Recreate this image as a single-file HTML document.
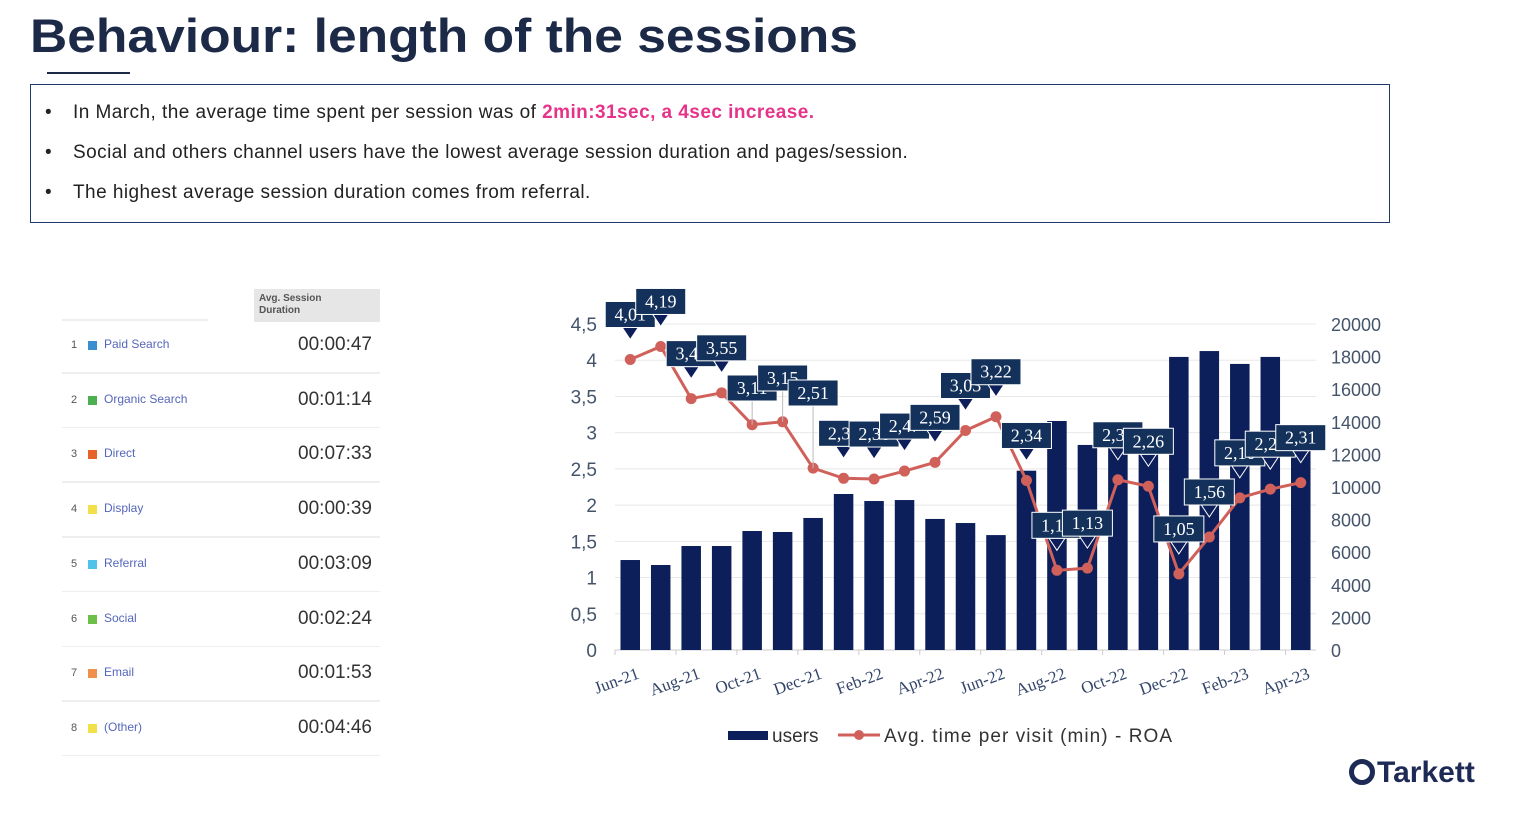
<!DOCTYPE html>
<html><head><meta charset="utf-8">
<style>
body{margin:0;width:1534px;height:826px;background:#fff;position:relative;overflow:hidden;font-family:"Liberation Sans",sans-serif}
.t{position:absolute}
#title{left:30px;top:8px;font-size:47px;font-weight:bold;color:#1c2a48;transform:scaleX(1.097);transform-origin:0 0;white-space:nowrap}
#uline{left:47px;top:72px;width:83px;height:2px;background:#1c2a48}
#box{left:30px;top:84px;width:1358px;height:137px;border:1.5px solid #1f3a6a}
.b{position:absolute;left:14px;font-size:19px;color:#222;letter-spacing:0.45px}
.b span.d{position:absolute;left:0}
.b span.x{position:absolute;left:28px;white-space:nowrap}
.pk{color:#e6338a;font-weight:bold}
.row{position:absolute;left:62px;width:318px;height:54px}
.sep{position:absolute;left:62px;height:1.5px;background:#eee}
.n{position:absolute;left:9px;font-size:11px;color:#555}
.sq{position:absolute;left:26px;width:9px;height:9px}
.lb{position:absolute;left:42px;font-size:12px;color:#5566bb}
.v{position:absolute;right:8px;font-size:19px;color:#333}
</style></head><body>
<div class="t" id="title">Behaviour: length of the sessions</div>
<div class="t" id="uline"></div>
<div class="t" id="box">
 <div class="b" style="top:17px"><span class="d">•</span><span class="x">In March, the average time spent per session was of <span class="pk">2min:31sec, a 4sec increase.</span></span></div>
 <div class="b" style="top:57px"><span class="d">•</span><span class="x">Social and others channel users have the lowest average session duration and pages/session.</span></div>
 <div class="b" style="top:97px"><span class="d">•</span><span class="x">The highest average session duration comes from referral.</span></div>
</div>

<div class="t" style="left:254px;top:289px;width:126px;height:33px;background:#e6e6e6"><div style="position:absolute;left:5px;top:4px;font-size:10px;font-weight:bold;color:#555;line-height:12px">Avg. Session<br>Duration</div></div>
<div class="sep" style="top:319px;width:146px"></div>
<div id="table"></div>

<svg id="chart" width="1534" height="826" style="position:absolute;left:0;top:0"></svg>

<div class="t" style="left:1349px;top:756px;font-size:30px;font-weight:bold;color:#1c2a55;white-space:nowrap"><span style="display:inline-block;width:26px;height:26px;border:5px solid #1c2a55;border-radius:50%;box-sizing:border-box;vertical-align:-3px;margin-right:2px"></span>Tarkett</div>

<script>
const channels=["Paid Search","Organic Search","Direct","Display","Referral","Social","Email","(Other)"];
const durations=["00:00:47","00:01:14","00:07:33","00:00:39","00:03:09","00:02:24","00:01:53","00:04:46"];
const chColors=["#3a8fd0","#4caf50","#e8632a","#f2e04a","#4fc3e8","#6cc04a","#f0904a","#f2e04a"];

const months=["Jun-21","Jul-21","Aug-21","Sep-21","Oct-21","Nov-21","Dec-21","Jan-22","Feb-22","Mar-22","Apr-22","May-22","Jun-22","Jul-22","Aug-22","Sep-22","Oct-22","Nov-22","Dec-22","Jan-23","Feb-23","Mar-23","Apr-23"];
const users=[5520,5215,6380,6380,7300,7240,8100,9570,9140,9200,8040,7790,7050,11000,14050,12580,13620,13500,17980,18340,17550,17980,12270];
const avgTime=[4.01,4.19,3.47,3.55,3.11,3.15,2.51,2.37,2.36,2.47,2.59,3.03,3.22,2.34,1.10,1.13,2.35,2.26,1.05,1.56,2.10,2.22,2.31];
const leftTicks=["0","0,5","1","1,5","2","2,5","3","3,5","4","4,5"];
const rightTicks=["0","2000","4000","6000","8000","10000","12000","14000","16000","18000","20000"];

const tbl=document.getElementById('table');
channels.forEach((c,i)=>{
  const r=document.createElement('div');r.className='row';r.style.top=(318+i*54.7)+'px';
  
  
  r.innerHTML=`<span class="n" style="top:21px">${i+1}</span><span class="sq" style="top:23px;background:${chColors[i]}"></span><span class="lb" style="top:19px">${c}</span><span class="v" style="top:16px">${durations[i]}</span>`;
  tbl.appendChild(r);
  const s=document.createElement('div');s.className='sep';s.style.top=(372+i*54.7)+'px';s.style.width='318px';
  
  
  tbl.appendChild(s);
});

const NS="http://www.w3.org/2000/svg",svg=document.getElementById('chart');
function el(t,a,p){const e=document.createElementNS(NS,t);for(const k in a)e.setAttribute(k,a[k]);(p||svg).appendChild(e);return e;}
const y0=650,yTop=324,x0=615,x1=1316;
const yL=v=>y0-(v/4.5)*(y0-yTop);
const yR=v=>y0-(v/20000)*(y0-yTop);
const step=(x1-x0)/months.length;
const xC=i=>x0+step*(i+0.5);
const serif='"Liberation Serif",serif';

leftTicks.forEach((t,i)=>{const y=yL(i*0.5);
  const g=el('line',{x1:x0,x2:x1,y1:y,y2:y,stroke:i?'#e8e8e8':'#ccc'});
  const tx=el('text',{x:597,y:y+7,'text-anchor':'end','font-size':19,fill:'#44546a','font-family':'Liberation Sans'});tx.textContent=t;
  });
rightTicks.forEach((t,i)=>{const tx=el('text',{x:1331,y:yR(i*2000)+7,'font-size':18,fill:'#44546a','font-family':'Liberation Sans'});tx.textContent=t;
  });

users.forEach((u,i)=>{const w=step*0.64;
  const r=el('rect',{x:xC(i)-w/2,y:yR(u),width:w,height:y0-yR(u),fill:'#0d1f5a'});
  });
months.forEach((m,i)=>{if(i%2)return;const x=xC(i)+10,y=678;
  const t=el('text',{x:x,y:y,'text-anchor':'end','font-size':17,fill:'#33446a','font-family':serif,transform:`rotate(-20 ${x} ${y})`});t.textContent=m;
  
  el('line',{x1:xC(i)-step/2,x2:xC(i)-step/2,y1:y0,y2:y0+5,stroke:'#ccc'});});

const pts=avgTime.map((v,i)=>xC(i)+','+yL(v)).join(' ');
const pl=el('polyline',{points:pts,fill:'none',stroke:'#d0605a','stroke-width':3});

avgTime.forEach((v,i)=>{const c=el('circle',{cx:xC(i),cy:yL(v),r:5.5,fill:'#d0605a'});
  });

const lead={4:375,5:365,6:380};
avgTime.forEach((v,i)=>{
  const x=xC(i),py=yL(v);const s=v.toFixed(2).replace('.',',');
  let top=lead[i]!==undefined?lead[i]:py-58;
  const g=el('g',{});
  if(lead[i]!==undefined){el('line',{x1:x,x2:x,y1:top+26,y2:py,stroke:'#bbb'},g);}
  else el('polygon',{points:`${x-8},${top+26} ${x+8},${top+26} ${x},${top+38}`,fill:'#0d1f5a',stroke:'#fff','stroke-width':1},g);
  el('rect',{x:x-25,y:top,width:50,height:26,fill:'#13315a',stroke:'#fff','stroke-width':1},g);
  const t=el('text',{x:x,y:top+19,'text-anchor':'middle','font-size':18,fill:'#fff','font-family':serif},g);t.textContent=s;
});

const lg=el('g',{});
el('rect',{x:728,y:731,width:40,height:9,fill:'#0d1f5a'},lg);
let t=el('text',{x:772,y:742,'font-size':19,fill:'#333','font-family':'Liberation Sans'},lg);t.textContent='users';
el('line',{x1:838,x2:880,y1:735,y2:735,stroke:'#d0605a','stroke-width':3},lg);
el('circle',{cx:859,cy:735,r:5,fill:'#d0605a'},lg);
t=el('text',{x:884,y:742,'font-size':19,fill:'#333','font-family':'Liberation Sans',textLength:288},lg);t.textContent='Avg. time per visit (min) - ROA';
</script>
</body></html>
